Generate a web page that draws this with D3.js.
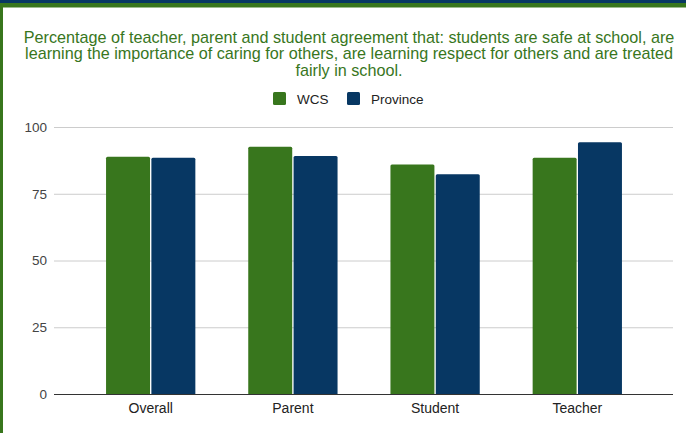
<!DOCTYPE html>
<html>
<head>
<meta charset="utf-8">
<script src="https://cdn.jsdelivr.net/npm/d3@7"></script>
<style>
  html, body { margin: 0; padding: 0; background: #fff; }
  svg { display: block; font-family: "Liberation Sans", Arial, sans-serif; }
</style>
</head>
<body>
<svg id="chart" width="686" height="433"></svg>
<script>
const categories = ["Overall", "Parent", "Student", "Teacher"];
const seriesNames = ["WCS", "Province"];
const wcsValues = [88.9, 92.6, 86.0, 88.5];
const provinceValues = [88.5, 89.1, 82.3, 94.3];
const yTicks = [0, 25, 50, 75, 100];
const titleLines = [
  "Percentage of teacher, parent and student agreement that: students are safe at school, are",
  "learning the importance of caring for others, are learning respect for others and are treated",
  "fairly in school."
];
const colors = { WCS: "#38761d", Province: "#073763" };

const svg = d3.select("#chart");
const W = 686, H = 433;

// frame strips
svg.append("rect").attr("x", 0).attr("y", 0).attr("width", W).attr("height", 3).attr("fill", "#073763");
svg.append("rect").attr("x", 0).attr("y", 3).attr("width", W).attr("height", 4.5).attr("fill", "#38761d");
svg.append("rect").attr("x", 0).attr("y", 3).attr("width", 3).attr("height", H).attr("fill", "#38761d");

// title
svg.append("g").selectAll("text").data(titleLines).join("text")
  .attr("x", 349).attr("y", (d, i) => 42.5 + i * 16.5)
  .attr("text-anchor", "middle")
  .attr("fill", "#38761d")
  .attr("font-size", "16.2px")
  .text(d => d);

// legend
const legend = svg.append("g");
const legendItems = [{name: "WCS", x: 273}, {name: "Province", x: 347}];
legendItems.forEach(it => {
  legend.append("rect").attr("x", it.x).attr("y", 92).attr("width", 13).attr("height", 13)
    .attr("rx", 1.5).attr("fill", colors[it.name]);
  legend.append("text").attr("x", it.x + 24).attr("y", 103.5)
    .attr("font-size", "13.5px").attr("fill", "#222").text(it.name);
});

// scales
const y = d3.scaleLinear().domain([0, 100]).range([394, 127]);
const x0 = d3.scaleBand().domain(categories).range([79.6, 648.4]).paddingInner(0.372).paddingOuter(0.186);
const x1 = d3.scaleBand().domain(seriesNames).range([0, x0.bandwidth()]).paddingInner(0.03);

// gridlines
const grid = svg.append("g");
grid.selectAll("line").data(yTicks.filter(t => t !== 0)).join("line")
  .attr("x1", 54).attr("x2", 673)
  .attr("y1", d => y(d) + 0.5).attr("y2", d => y(d) + 0.5)
  .attr("stroke", "#cccccc").attr("stroke-width", 1);

// y axis labels via d3 axis
const yAxis = svg.append("g").attr("transform", "translate(54,0)")
  .call(d3.axisLeft(y).tickValues(yTicks).tickSize(0).tickPadding(7));
yAxis.select(".domain").remove();
yAxis.selectAll("text").attr("font-size", "13.5px").attr("fill", "#444")
  .attr("font-family", "Liberation Sans, Arial, sans-serif");

// bars
const data = categories.map((c, i) => ({ cat: c, values: [
  { name: "WCS", value: wcsValues[i] },
  { name: "Province", value: provinceValues[i] }
]}));
const groups = svg.append("g").selectAll("g").data(data).join("g")
  .attr("transform", d => `translate(${x0(d.cat)},0)`);
groups.selectAll("path").data(d => d.values).join("path")
  .attr("fill", d => colors[d.name])
  .attr("d", d => {
    const bx = x1(d.name), bw = x1.bandwidth(), top = y(d.value), bottom = y(0), r = 1.5;
    return `M${bx},${bottom} L${bx},${top + r} Q${bx},${top} ${bx + r},${top} L${bx + bw - r},${top} Q${bx + bw},${top} ${bx + bw},${top + r} L${bx + bw},${bottom} Z`;
  });

// baseline
svg.append("line").attr("x1", 54).attr("x2", 673).attr("y1", 394.5).attr("y2", 394.5)
  .attr("stroke", "#333").attr("stroke-width", 1.2);

// x axis labels
const xAxis = svg.append("g").attr("transform", "translate(0,395)")
  .call(d3.axisBottom(x0).tickSize(0).tickPadding(8));
xAxis.select(".domain").remove();
xAxis.selectAll("text").attr("font-size", "14px").attr("fill", "#222")
  .attr("font-family", "Liberation Sans, Arial, sans-serif");
</script>
</body>
</html>
